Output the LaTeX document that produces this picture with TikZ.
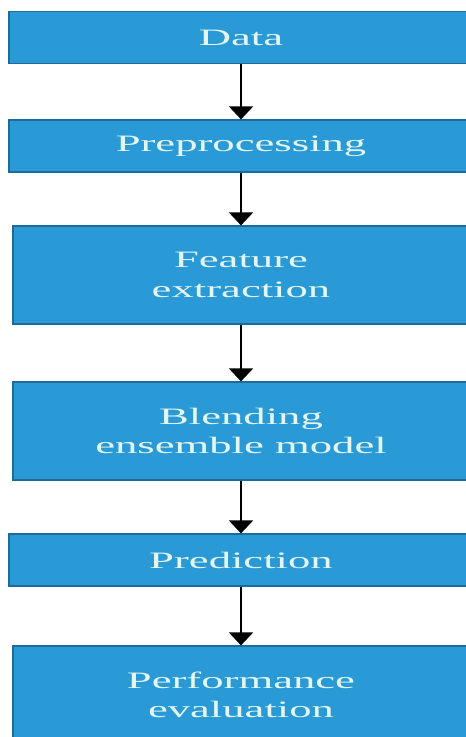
\documentclass[tikz,border=0pt]{standalone}
\usepackage{fontspec}
\setmainfont{Liberation Serif}[FakeStretch=1.9]
\usetikzlibrary{arrows.meta}

\definecolor{boxblue}{HTML}{2A9AD6}
\definecolor{boxedge}{HTML}{1E6A9A}
\definecolor{boxtext}{HTML}{E4F6F2}

\begin{document}
\begin{tikzpicture}[
    x=1pt, y=-1pt,
    box/.style={rectangle, draw=boxedge, line width=1.2pt, fill=boxblue,
        text=boxtext, align=center, inner sep=2pt,
        font=\fontsize{23.5}{29.5}\selectfont},
    short/.style={box, minimum width=464pt, minimum height=52pt},
    tall/.style={box, minimum width=456pt, minimum height=98pt},
    arrow/.style={line width=2pt, black, -{Triangle[width=24pt,length=13pt]}}
]
    \clip (0,0) rectangle (466,737);
    \fill[white] (0,0) rectangle (466,737);
    \node[short] (data) at (241,37.5) {Data};
    \node[short] (prep) at (241,146) {Preprocessing};
    \node[tall] (feat) at (241,275) {Feature\\extraction};
    \node[tall] (blend) at (241,431) {Blending\\ensemble model};
    \node[short] (pred) at (241,560) {Prediction};
    \node[tall] (perf) at (241,695) {Performance\\evaluation};
    \draw[arrow] (data) -- (prep);
    \draw[arrow] (prep) -- (feat);
    \draw[arrow] (feat) -- (blend);
    \draw[arrow] (blend) -- (pred);
    \draw[arrow] (pred) -- (perf);
\end{tikzpicture}
\end{document}
